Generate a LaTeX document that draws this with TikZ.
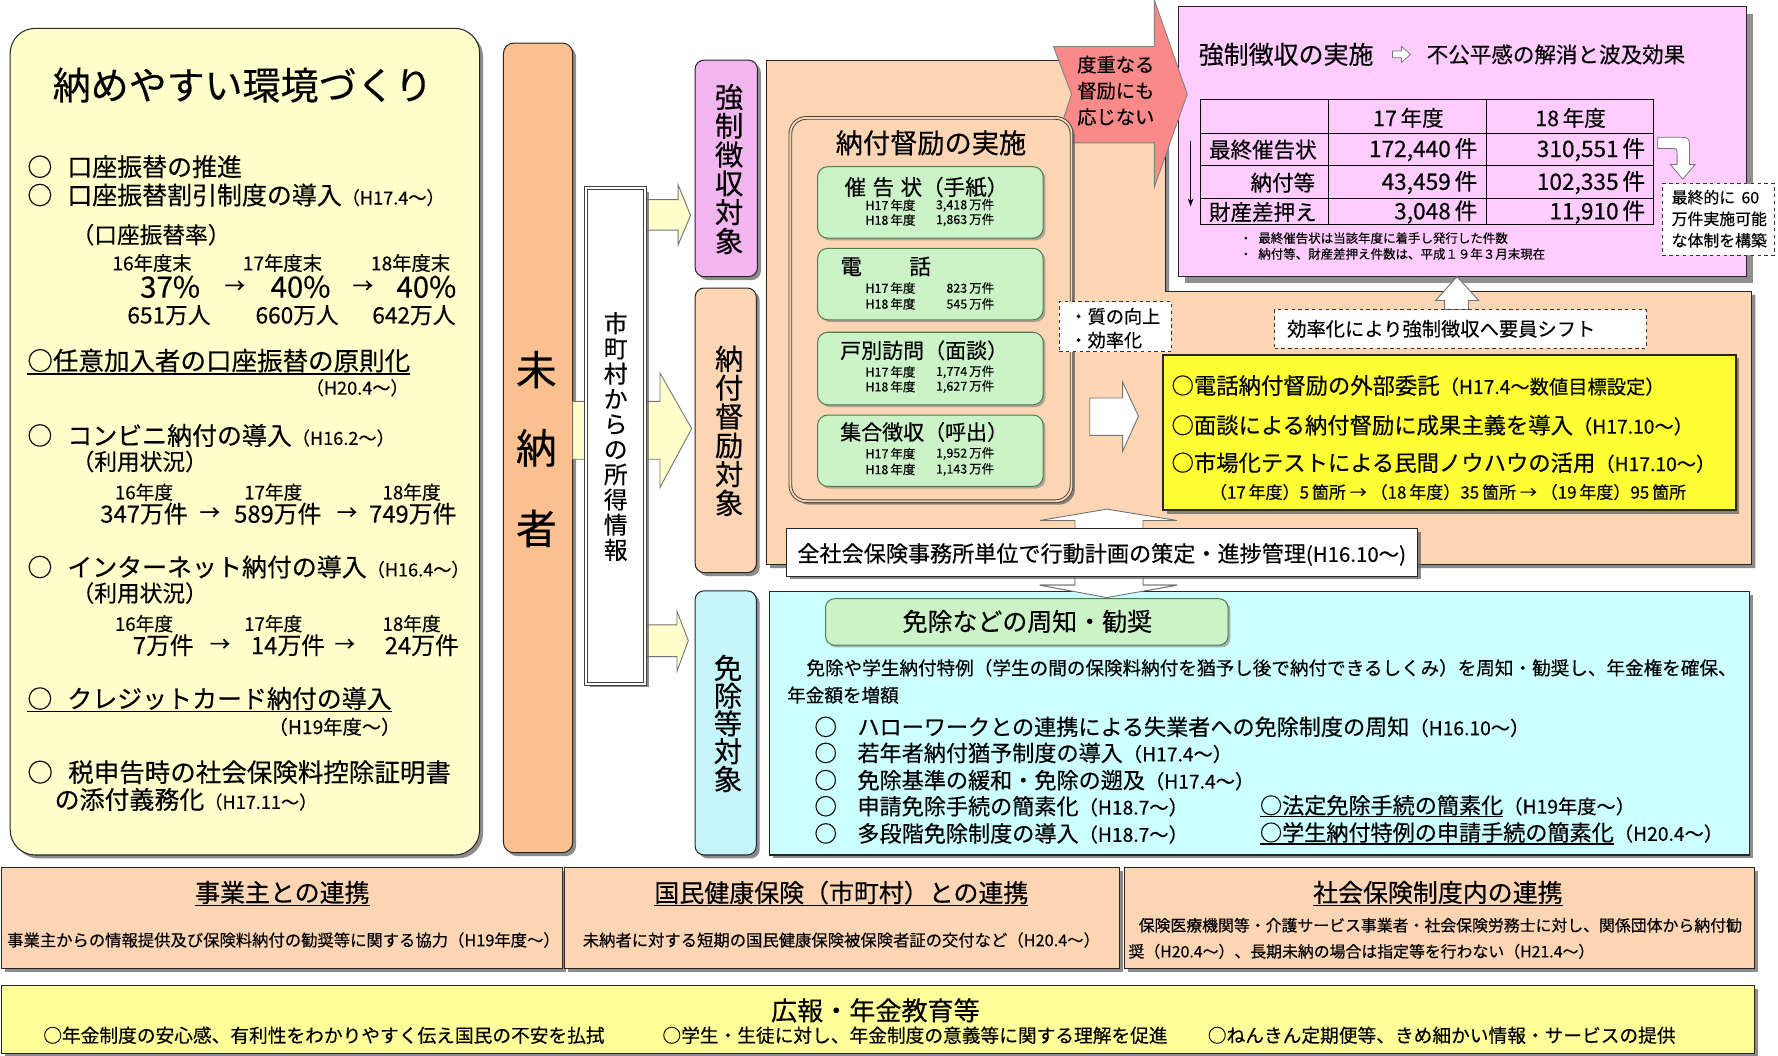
\documentclass[tikz,border=0pt]{standalone}
\usepackage{fontspec}
\setmainfont{Noto Sans CJK JP}[FakeBold=0.35]
\usetikzlibrary{shadows,fit,arrows.meta}
\newcommand\fsz[1]{\fontsize{#1}{#1}\selectfont}
\newsavebox\ulbox
\newcommand\ulx[1]{\sbox\ulbox{#1}\rlap{\rule[-0.17em]{\wd\ulbox}{1.1pt}}\usebox\ulbox}
\definecolor{cream}{HTML}{FFFFCC}
\definecolor{orng}{HTML}{FAC090}
\definecolor{peach}{HTML}{FCD5B4}
\definecolor{pinkA}{HTML}{F3B5F0}
\definecolor{pinkB}{HTML}{FFCCFF}
\definecolor{cyanA}{HTML}{C4F6FA}
\definecolor{cyanB}{HTML}{CCFFFF}
\definecolor{grn}{HTML}{CCF2C8}
\definecolor{grnD}{HTML}{4F7F4F}
\definecolor{salmon}{HTML}{FA8A8A}
\definecolor{ylw}{HTML}{FFFF33}
\definecolor{ylwL}{HTML}{FFFF99}
\begin{document}
\begin{tikzpicture}[x=1pt,y=-1pt,
  bx/.style={draw=black!85,line width=0.9pt,inner sep=0pt},
  sh/.style={drop shadow={shadow xshift=3pt,shadow yshift=-3pt,fill=black!60,opacity=.75}},
  shb/.style={drop shadow={shadow xshift=6pt,shadow yshift=-6pt,fill=black!55,opacity=.8}},
  tw/.style={inner sep=0pt,anchor=west},
  tc/.style={inner sep=0pt},
  te/.style={inner sep=0pt,anchor=east},
  yar/.style={draw=black!55,line width=0.8pt,fill=cream},
  war/.style={draw=black!55,line width=0.8pt,fill=white},
  dbox/.style={draw=black!80,dashed,line width=0.8pt,fill=white,inner sep=0pt},
  vt/.style={inner sep=0pt,align=center},
  gbox/.style={draw=grnD,line width=0.9pt,fill=grn,rounded corners=9pt,inner sep=0pt,drop shadow={shadow xshift=2pt,shadow yshift=-2pt,fill=black!50,opacity=.6}},
  dat/.style={inner sep=0pt,font=\fsz{11}},
]
\useasboundingbox (0,0) rectangle (1568,931);
\fill[white] (0,0) rectangle (1568,931);

% ---------------- left box
\node[bx, sh, fill=cream, rounded corners=22pt, fit={(9,25) (423,754)}] (env) {};
\node[tc, font=\fsz{33.5}] (envT) at (214,75) {納めやすい環境づくり};
\node[tw, font=\fsz{22}] (e1) at (24,147) {○\hspace{0.6em}口座振替の推進};
\node[tw, font=\fsz{22}] (e2) at (24,172) {○\hspace{0.6em}口座振替割引制度の導入{\fsz{16}（H17.4〜）}};
\node[tw, font=\fsz{20}] (e2a) at (63,207) {（口座振替率）};
\node[tc, font=\fsz{17}] (ey1) at (134,232) {16年度末};
\node[tc, font=\fsz{17}] (ey2) at (249,232) {17年度末};
\node[tc, font=\fsz{17}] (ey3) at (362,232) {18年度末};
\node[tc, font=\fsz{26}] (ep1) at (150,253) {37\%};
\node[tc, font=\fsz{18}] (ea1) at (207,253) {→};
\node[tc, font=\fsz{26}] (ep2) at (265,253) {40\%};
\node[tc, font=\fsz{18}] (ea2) at (320,253) {→};
\node[tc, font=\fsz{26}] (ep3) at (376,253) {40\%};
\node[tc, font=\fsz{20}] (en1) at (149,278) {651万人};
\node[tc, font=\fsz{20}] (en2) at (262,278) {660万人};
\node[tc, font=\fsz{20}] (en3) at (365,278) {642万人};
\node[tw, font=\fsz{22.5}] (e3) at (24,319) {\ulx{○任意加入者の口座振替の原則化}};
\node[tc, font=\fsz{16}] (e3a) at (315,342) {（H20.4〜）};
\node[tw, font=\fsz{22}] (e4) at (24,384) {○\hspace{0.6em}コンビニ納付の導入{\fsz{16}（H16.2〜）}};
\node[tw, font=\fsz{20}] (e4a) at (63,407) {（利用状況）};
\node[tc, font=\fsz{16.5}] (cy1) at (127,434) {16年度};
\node[tc, font=\fsz{16.5}] (cy2) at (241,434) {17年度};
\node[tc, font=\fsz{16.5}] (cy3) at (363,434) {18年度};
\node[tc, font=\fsz{21}] (cn1) at (127,453) {347万件};
\node[tc, font=\fsz{18}] (ca1) at (185,453) {→};
\node[tc, font=\fsz{21}] (cn2) at (245,453) {589万件};
\node[tc, font=\fsz{18}] (ca2) at (306,453) {→};
\node[tc, font=\fsz{21}] (cn3) at (364,453) {749万件};
\node[tw, font=\fsz{22}] (e5) at (24,500) {○\hspace{0.6em}インターネット納付の導入{\fsz{16}（H16.4〜）}};
\node[tw, font=\fsz{20}] (e5a) at (63,523) {（利用状況）};
\node[tc, font=\fsz{16.5}] (iy1) at (127,550) {16年度};
\node[tc, font=\fsz{16.5}] (iy2) at (241,550) {17年度};
\node[tc, font=\fsz{16.5}] (iy3) at (363,550) {18年度};
\node[tc, font=\fsz{21}] (in1) at (144,569) {7万件};
\node[tc, font=\fsz{18}] (ia1) at (194,569) {→};
\node[tc, font=\fsz{21}] (in2) at (254,569) {14万件};
\node[tc, font=\fsz{18}] (ia2) at (304,569) {→};
\node[tc, font=\fsz{21}] (in3) at (372,569) {24万件};
\node[tw, font=\fsz{22}] (e6) at (24,617) {\ulx{○\hspace{0.6em}クレジットカード納付の導入}};
\node[tc, font=\fsz{17}] (e6a) at (295,641) {（H19年度〜）};
\node[tw, font=\fsz{22.5}] (e7) at (24,681) {○\hspace{0.6em}税申告時の社会保険料控除証明書};
\node[tw, font=\fsz{22}] (e7a) at (48,705) {の添付義務化{\fsz{16}（H17.11〜）}};

% ---------------- 未納者 and arrows
\node[bx, sh, fill=orng, rounded corners=9pt, fit={(444,38) (505,752)}] (mino) {};
\node[tc, font=\fsz{36}] (mi1) at (473,326) {未};
\node[tc, font=\fsz{36}] (mi2) at (473,395) {納};
\node[tc, font=\fsz{36}] (mi3) at (473,466) {者};

\draw[yar] (505,354) -- (582,354) -- (582,329) -- (610,378) -- (582,430) -- (582,405) -- (505,405) -- cycle;
\draw[yar] (569,176) -- (598,176) -- (598,163) -- (609,190) -- (598,216) -- (598,203) -- (569,203) -- cycle;
\draw[yar] (569,551) -- (597,551) -- (597,539) -- (607,565) -- (597,592) -- (597,579) -- (569,579) -- cycle;

\node[draw=black!75, line width=0.9pt, double=white, double distance=1.4pt, fill=white, inner sep=0pt, sh, fit={(517,166) (569,603)}] (shi) {};
\node[vt, font=\fontsize{21}{22.2}\selectfont] (shiT) at (543,385) {市\\町\\村\\か\\ら\\の\\所\\得\\情\\報};

% ---------------- three target labels
\node[bx, sh, fill=pinkA, rounded corners=8pt, fit={(613,53) (668,244)}] (kyo) {};
\node[vt, font=\fontsize{25}{25.4}\selectfont] (kyoT) at (643,149) {強\\制\\徴\\収\\対\\象};
\node[bx, sh, fill=peach, rounded corners=8pt, fit={(613,254) (667,505)}] (nof) {};
\node[vt, font=\fontsize{25}{25.4}\selectfont] (nofT) at (643,380) {納\\付\\督\\励\\対\\象};
\node[bx, sh, fill=cyanA, rounded corners=8pt, fit={(613,521) (667,754)}] (men) {};
\node[vt, font=\fontsize{25}{24.5}\selectfont] (menT) at (642,638) {免\\除\\等\\対\\象};

% ---------------- peach panel (L shape)
\draw[bx, fill=peach, sh] (676,53) -- (1028,53) -- (1028,257) -- (1545,257) -- (1545,498) -- (676,498) -- cycle;

% ---------------- pink panel
\node[bx, shb, fill=pinkB, fit={(1039,6) (1540,244)}] (pk) {};
\node[tw, font=\fsz{22}] (pkT) at (1057,48) {強制徴収の実施};
\draw[war, line width=0.6pt] (1228,45) -- (1236,45) -- (1236,41) -- (1244,48) -- (1236,55) -- (1236,51) -- (1228,51) -- cycle;
\node[tw, font=\fsz{19}] (pkT2) at (1258,48) {不公平感の解消と波及効果};
% table
\fill[pinkB] (1059,88) rectangle (1458,198);
\draw[line width=0.9pt] (1059,88) rectangle (1458,198);
\foreach \yy in {118,146,175} \draw[line width=0.9pt] (1059,\yy) -- (1458,\yy);
\foreach \xx in {1172,1311} \draw[line width=0.9pt] (\xx,88) -- (\xx,198);
\node[tc, font=\fsz{19}] (th1) at (1242,104) {17\,年度};
\node[tc, font=\fsz{19}] (th2) at (1385,104) {18\,年度};
\node[tw, font=\fsz{19}] (tr1) at (1066,132) {最終催告状};
\node[te, font=\fsz{19}] (tr2) at (1160,161) {納付等};
\node[tw, font=\fsz{19}] (tr3) at (1066,187) {財産差押え};
\node[te, font=\fsz{20}] (t11) at (1303,132) {172,440\,件};
\node[te, font=\fsz{20}] (t12) at (1451,132) {310,551\,件};
\node[te, font=\fsz{20}] (t21) at (1303,161) {43,459\,件};
\node[te, font=\fsz{20}] (t22) at (1451,161) {102,335\,件};
\node[te, font=\fsz{20}] (t31) at (1303,187) {3,048\,件};
\node[te, font=\fsz{20}] (t32) at (1451,187) {11,910\,件};
\coordinate (da1) at (1050,124);
\coordinate (da2) at (1050,182);
\draw[line width=0.8pt, -{Stealth[length=7pt,width=5pt]}] (da1) -- (da2);
\node[tw, font=\fsz{11}] (nt1) at (1093,210) {・\hspace{0.5em}最終催告状は当該年度に着手し発行した件数};
\node[tw, font=\fsz{11}] (nt2) at (1093,224) {・\hspace{0.5em}納付等、財産差押え件数は、平成１９年３月末現在};
\draw[war, line width=0.7pt] (1462,121) -- (1478,121) .. controls (1490,121) .. (1490,133) -- (1490,145) -- (1495,145) -- (1484,158) -- (1473,145) -- (1479,145) -- (1479,136) .. controls (1479,131) .. (1474,131) -- (1462,131) -- cycle;
\node[dbox, fit={(1466,162) (1565,225)}] (fin) {};
\node[tw, font=\fsz{14}] (fin1) at (1474,174) {最終的に\hspace{0.4em}60};
\node[tw, font=\fsz{14}] (fin2) at (1474,193) {万件実施可能};
\node[tw, font=\fsz{14}] (fin3) at (1474,212) {な体制を構築};

% ---------------- red arrow
\draw[draw=black!50, line width=0.8pt, fill=salmon] (929,41) -- (1018,41) -- (1018,0) -- (1047,83) -- (1018,165) -- (1018,126) -- (931,126) -- (945,83) -- cycle;
\node[tc, font=\fsz{17}] (ra1) at (984,57) {度重なる};
\node[tc, font=\fsz{17}] (ra2) at (984,80) {督励にも};
\node[tc, font=\fsz{17}] (ra3) at (984,103) {応じない};

% ---------------- 納付督励の実施
\node[draw=black!75, line width=0.8pt, double=peach, double distance=1.6pt, fill=peach, rounded corners=14pt, inner sep=0pt, sh, fit={(697,104) (945,442)}] (tok) {};
\node[tc, font=\fsz{24}] (tokT) at (821,126) {納付督励の実施};
\node[gbox, fit={(721,147) (920,210)}] (g1) {};
\node[gbox, fit={(721,219) (920,282)}] (g2) {};
\node[gbox, fit={(721,293) (920,357)}] (g3) {};
\node[gbox, fit={(721,366) (920,429)}] (g4) {};
\node[tc, font=\fsz{19}] (g1T) at (817,165) {催\hspace{0.3em}告\hspace{0.3em}状（手紙）};
\node[tw, font=\fsz{19}] (g2T) at (741,235) {電\hspace{2.2em}話};
\node[tc, font=\fsz{18.5}] (g3T) at (815,309) {戸別訪問（面談）};
\node[tc, font=\fsz{18.5}] (g4T) at (815,381) {集合徴収（呼出）};
\node[dat, anchor=west] (d11) at (763,181) {H17\,年度};
\node[dat, anchor=east] (d12) at (877,181) {3,418\,万件};
\node[dat, anchor=west] (d13) at (763,194) {H18\,年度};
\node[dat, anchor=east] (d14) at (877,194) {1,863\,万件};
\node[dat, anchor=west] (d21) at (763,254) {H17\,年度};
\node[dat, anchor=east] (d22) at (877,254) {823\,万件};
\node[dat, anchor=west] (d23) at (763,268) {H18\,年度};
\node[dat, anchor=east] (d24) at (877,268) {545\,万件};
\node[dat, anchor=west] (d31) at (763,328) {H17\,年度};
\node[dat, anchor=east] (d32) at (877,328) {1,774\,万件};
\node[dat, anchor=west] (d33) at (763,341) {H18\,年度};
\node[dat, anchor=east] (d34) at (877,341) {1,627\,万件};
\node[dat, anchor=west] (d41) at (763,400) {H17\,年度};
\node[dat, anchor=east] (d42) at (877,400) {1,952\,万件};
\node[dat, anchor=west] (d43) at (763,414) {H18\,年度};
\node[dat, anchor=east] (d44) at (877,414) {1,143\,万件};

% ---------------- quality box, arrows, yellow box
\node[dbox, fit={(934,266) (1033,310)}] (qa) {};
\node[tw, font=\fsz{16}] (qa1) at (943,279) {・質の向上};
\node[tw, font=\fsz{16}] (qa2) at (943,300) {・効率化};
\draw[war] (961,351) -- (990,351) -- (990,337) -- (1004,367) -- (990,398) -- (990,384) -- (961,384) -- cycle;
\node[draw=black!85, line width=1.8pt, fill=ylw, inner sep=0pt, sh, fit={(1026,313) (1531,450)}] (yb) {};
\node[tw, font=\fsz{19.7}] (yb1) at (1033,340) {○電話納付督励の外部委託{\fsz{17}（H17.4〜数値目標設定）}};
\node[tw, font=\fsz{19.7}] (yb2) at (1033,375) {○面談による納付督励に成果主義を導入{\fsz{17}（H17.10〜）}};
\node[tw, font=\fsz{19.7}] (yb3) at (1033,408) {○市場化テストによる民間ノウハウの活用{\fsz{17}（H17.10〜）}};
\node[tc, font=\fsz{15}] (yb4) at (1277,434) {（17\,年度）5\,箇所 → （18\,年度）35\,箇所 → （19\,年度）95\,箇所};
\draw[war] (1274,273) -- (1274,265) -- (1266,265) -- (1285,244) -- (1304,265) -- (1295,265) -- (1295,273) -- cycle;
\node[dbox, fit={(1124,273) (1452,307)}] (sf) {};
\node[tw, font=\fsz{17}] (sfT) at (1135,290) {効率化により強制徴収へ要員シフト};

% ---------------- double arrow & action plan box
\draw[war] (948,466) -- (948,459) -- (917,459) -- (976,449) -- (1038,459) -- (1008,459) -- (1008,516) -- (1038,516) -- (976,527) -- (917,516) -- (948,516) -- cycle;

% ---------------- cyan panel
\node[bx, sh, fill=cyanB, fit={(679,522) (1543,754)}] (cy) {};
\draw[war] (948,508) -- (948,516) -- (917,516) -- (976,527) -- (1038,516) -- (1008,516) -- (1008,508) -- cycle;
\node[bx, sh, fill=white, fit={(694,466) (1250,508)}] (ap) {};
\node[tw, font=\fsz{19.5}] (apT) at (703,489) {全社会保険事務所単位で行動計画の策定・進捗管理{\fsz{18}(H16.10〜)}};

\node[gbox, rounded corners=8pt, fit={(728,528) (1083,569)}] (ml) {};
\node[tc, font=\fsz{22}] (mlT) at (906,548) {免除などの周知・勧奨};
\node[tw, font=\fsz{16.4}] (mp1) at (711,589) {免除や学生納付特例（学生の間の保険料納付を猶予し後で納付できるしくみ）を周知・勧奨し、年金権を確保、};
\node[tw, font=\fsz{16.4}] (mp2) at (694,613) {年金額を増額};
\foreach \yy/\tx/\pp [count=\i] in {641/ハローワークとの連携による失業者への免除制度の周知/H16.10〜,664/若年者納付猶予制度の導入/H17.4〜,688/免除基準の緩和・免除の遡及/H17.4〜,711/申請免除手続の簡素化/H18.7〜,735/多段階免除制度の導入/H18.7〜}{
  \node[tw, font=\fsz{20}] (mc\i) at (718,\yy) {○};
  \node[tw, font=\fsz{19.5}] (mt\i) at (756,\yy) {\tx{\fsz{17}（\pp）}};
}
\node[tw, font=\fsz{19.5}] (mr1) at (1111,711) {\ulx{○法定免除手続の簡素化}{\fsz{17}（H19年度〜）}};
\node[tw, font=\fsz{19.5}] (mr2) at (1111,735) {\ulx{○学生納付特例の申請手続の簡素化}{\fsz{17}（H20.4〜）}};

% ---------------- bottom boxes
\node[bx, sh, fill=peach, fit={(1,765) (496,854)}] (b1) {};
\node[bx, sh, fill=peach, fit={(498,765) (987,854)}] (b2) {};
\node[bx, sh, fill=peach, fit={(992,765) (1547,854)}] (b3) {};
\node[tc, font=\fsz{22}] (b1T) at (249,788) {\ulx{事業主との連携}};
\node[tc, font=\fsz{14.4}] (b1s) at (250,829) {事業主からの情報提供及び保険料納付の勧奨等に関する協力（H19年度〜）};
\node[tc, font=\fsz{22}] (b2T) at (742,788) {\ulx{国民健康保険（市町村）との連携}};
\node[tc, font=\fsz{14.4}] (b2s) at (742,829) {未納者に対する短期の国民健康保険被保険者証の交付など（H20.4〜）};
\node[tc, font=\fsz{22}] (b3T) at (1268,788) {\ulx{社会保険制度内の連携}};
\node[tw, font=\fsz{14}] (b3s1) at (1004,816) {保険医療機関等・介護サービス事業者・社会保険労務士に対し、関係団体から納付勧};
\node[tw, font=\fsz{14}] (b3s2) at (995,839) {奨（H20.4〜）、長期未納の場合は指定等を行わない（H21.4〜）};

\node[bx, sh, fill=ylwL, fit={(1,869) (1547,929)}] (pr) {};
\node[tc, font=\fsz{23}] (prT) at (772,891) {広報・年金教育等};
\node[tw, font=\fsz{16.5}] (pr1) at (38,913) {○年金制度の安心感、有利性をわかりやすく伝え国民の不安を払拭};
\node[tw, font=\fsz{16.5}] (pr2) at (584,913) {○学生・生徒に対し、年金制度の意義等に関する理解を促進};
\node[tw, font=\fsz{16.5}] (pr3) at (1065,913) {○ねんきん定期便等、きめ細かい情報・サービスの提供};
\end{tikzpicture}
\end{document}
